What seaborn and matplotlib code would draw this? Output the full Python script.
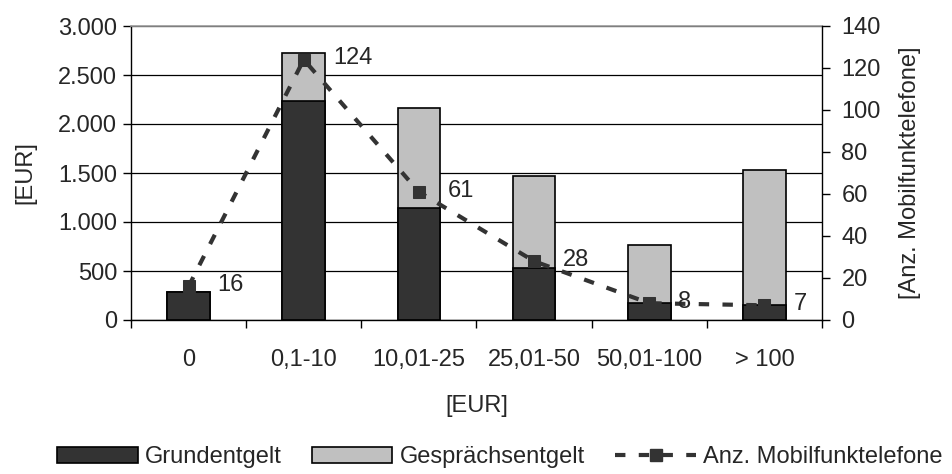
import numpy as np
import pandas as pd
import matplotlib
matplotlib.use("Agg")
import matplotlib.pyplot as plt
import seaborn as sns
from matplotlib.patches import Patch
from matplotlib.lines import Line2D
from matplotlib.ticker import FuncFormatter, FixedLocator

categories = ["0", "0,1-10", "10,01-25", "25,01-50", "50,01-100", "> 100"]
grundentgelt = [290, 2230, 1140, 535, 170, 150]
gespraechsentgelt = [0, 490, 1020, 935, 600, 1380]
anz_mobil = [16, 124, 61, 28, 8, 7]

sns.set_theme(style="white")
plt.rcParams["font.family"] = ["Liberation Sans", "DejaVu Sans"]
FS = 17

total = [g + s for g, s in zip(grundentgelt, gespraechsentgelt)]
df = pd.DataFrame({"cat": categories, "grund": grundentgelt, "total": total,
                   "anz": anz_mobil, "pos": np.arange(len(categories))})

fig = plt.figure(figsize=(9.52, 4.74), dpi=100)
ax = fig.add_axes([131/952, 1-320/474, (822-131)/952, (320-26)/474])

dark = "#333333"
light = "#c0c0c0"
sns.barplot(data=df, x="cat", y="total", color=light, edgecolor="black",
            linewidth=1.2, width=0.37, saturation=1, ax=ax)
sns.barplot(data=df, x="cat", y="grund", color=dark, edgecolor="black",
            linewidth=1.2, width=0.37, saturation=1, ax=ax)

ax.set_xlim(-0.5, len(categories) - 0.5)
ax.set_ylim(0, 3000)
ax.set_yticks(np.arange(0, 3001, 500))
ax.yaxis.set_major_formatter(FuncFormatter(lambda v, p: f"{int(v):,}".replace(",", ".")))
ax.grid(axis="y", color="black", linewidth=0.9)
ax.set_axisbelow(True)
ax.tick_params(axis="y", which="major", direction="out", length=6, width=1,
               color="black", labelsize=FS, left=True, pad=4)
ax.tick_params(axis="x", which="major", length=0, labelsize=FS, pad=21)
ax.xaxis.set_minor_locator(FixedLocator(np.arange(-0.5, len(categories), 1.0)))
ax.tick_params(axis="x", which="minor", direction="out", length=6, width=1,
               color="black", bottom=True)
ax.set_xlabel("[EUR]", fontsize=FS, labelpad=17)
ax.set_ylabel("[EUR]", fontsize=FS, labelpad=16)
for side in ["left", "bottom"]:
    ax.spines[side].set_color("black")
    ax.spines[side].set_linewidth(1)
ax.spines["top"].set_color("#999999")
ax.spines["top"].set_linewidth(1.2)
ax.spines["right"].set_visible(False)

ls = (0, (2.5, 3.2))
ax2 = ax.twinx()
sns.lineplot(data=df, x="pos", y="anz", color=dark, linewidth=3,
             linestyle=ls, marker="s", markersize=9,
             markeredgecolor=dark, markerfacecolor=dark, ax=ax2)
ax2.set_ylim(0, 140)
ax2.set_yticks(np.arange(0, 141, 20))
ax2.tick_params(axis="y", direction="out", length=6, width=1, color="black",
                labelsize=FS, right=True, pad=8)
ax2.set_ylabel("[Anz. Mobilfunktelefone]", fontsize=FS, labelpad=13)
ax2.set_xlabel("")
for side in ["left", "top", "bottom"]:
    ax2.spines[side].set_visible(False)
ax2.spines["right"].set_color("black")
ax2.spines["right"].set_linewidth(1)
ax2.grid(False)
ax2.set_xlim(-0.5, len(categories) - 0.5)

for x, v in zip(df["pos"], df["anz"]):
    ax2.annotate(str(v), (x, v), xytext=(21, 1), textcoords="offset points",
                 ha="left", va="center", fontsize=FS)

handles = [
    Patch(facecolor=dark, edgecolor="black", linewidth=1.2),
    Patch(facecolor=light, edgecolor="black", linewidth=1.2),
    Line2D([0], [0], color=dark, linewidth=3, linestyle=ls,
           marker="s", markersize=9),
]
labels = ["Grundentgelt", "Gesprächsentgelt", "Anz. Mobilfunktelefone"]
fig.legend(handles, labels, loc="center", bbox_to_anchor=(0.525, 0.035), ncol=3,
           frameon=False, fontsize=FS, handlelength=3.4, handleheight=0.7,
           handletextpad=0.3, columnspacing=1.3)

fig.savefig("out.png", dpi=100)
